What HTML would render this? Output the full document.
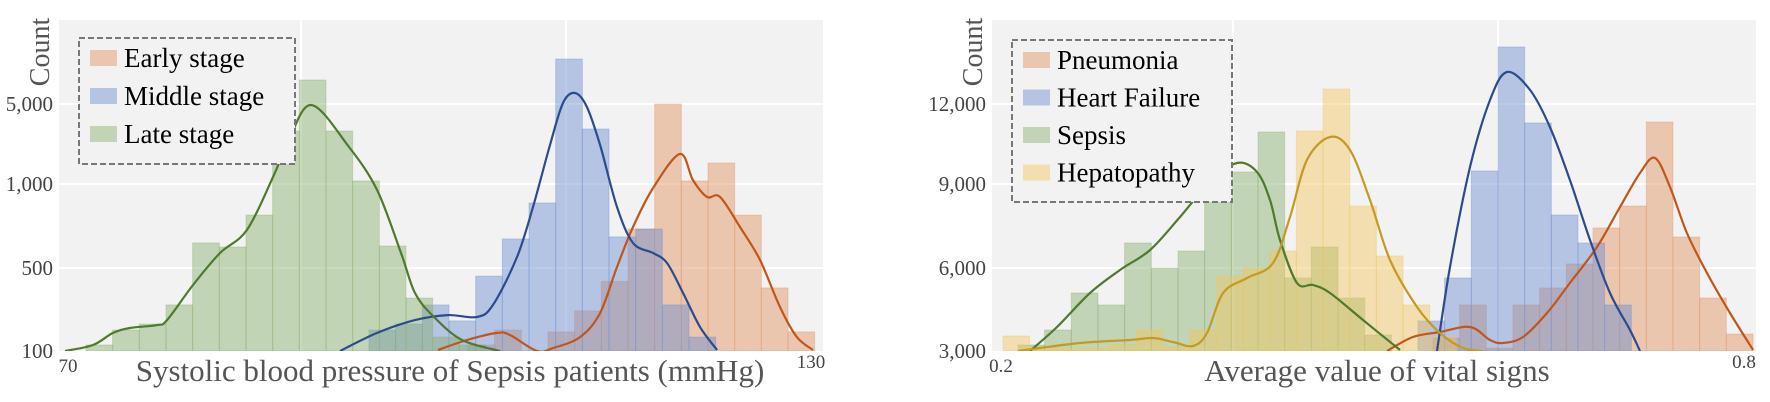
<!DOCTYPE html>
<html><head><meta charset="utf-8">
<style>
html,body{margin:0;padding:0;background:#fff;}
svg{display:block;font-family:"Liberation Serif",serif;}
</style></head>
<body>
<svg id="chart" width="1770" height="402" viewBox="0 0 1770 402" xmlns="http://www.w3.org/2000/svg">
<g id="p1"></g>
<g id="p2"></g>
</svg>
<script>
// ---------- Left panel data ----------
const leftYTicks = [100, 500, 1000, 5000];
const leftYTickLabels = ["100", "500", "1,000", "5,000"];
const leftBinWidth = 2.013;
const earlyStart = 102.6;
const earlyCounts = [129, 201, 100, 192, 293, 435, 732, 5000, 1150, 2050, 815, 404, 192];
const middleStart = 95.13;
const middleCounts = [201, 230, 322, 245, 461, 673, 887, 7250, 3750, 685, 732, 322, 167];
const lateStart = 73.77;
const lateCounts = [129, 201, 230, 322, 649, 625, 815, 3650, 6200, 3650, 1150, 631, 355, 167, 129];
const earlyKdeX = [100.34,102.53,104.79,105.77,107.81,109.02,111.06,112.57,113.85,115.06,116.57,118.60,119.58,120.64,121.62,123.13,124.64,126.15,127.43,128.64];
const earlyKdeY = [105,153,187,177,100,114,167,283,506,744,976,2500,1200,923,923,744,548,312,167,105];
const middleKdeX = [92.94,95.74,98.60,101.09,103.28,104.49,106.30,107.51,108.79,109.77,110.68,111.58,112.57,113.85,115.06,116.57,117.62,118.83,120.11,121.40];
const middleKdeY = [100,187,249,273,264,322,565,863,2950,5050,5550,4850,2950,863,649,589,530,380,216,105];
const lateKdeX = [72.19,74.30,75.81,77.09,79.13,79.89,81.85,83.89,85.92,87.89,88.94,90.75,93.62,95.74,97.55,98.60,100.04,102.15,105.02];
const lateKdeY = [100,129,187,211,225,249,418,589,726,1350,2950,4950,2850,964,589,380,264,153,100];

// ---------- Right panel data ----------
const rightYTicks = [3000, 6000, 9000, 12000];
const rightYTickLabels = ["3,000", "6,000", "9,000", "12,000"];
const rightBinWidth = 0.02013;
const pneuStart = 0.5509;
const pneuCounts = [3470, 4663, 3100, 4663, 5277, 6143, 7429, 8214, 11325, 7107, 4916, 3614];
const hfStart = 0.5396;
const hfCounts = [4084, 5639, 9488, 14138, 11288, 7893, 6893, 4663];
const sepsisStart = 0.2377;
const sepsisCounts = [3217, 3759, 5096, 4663, 6893, 6000, 6607, 10988, 9450, 10950, 5639, 6750, 4916, 3578];
const hepaStart = 0.2264;
const hepaCounts = [3542, 3145, 3108, 3108, 3217, 3759, 3145, 3759, 5711, 6000, 6607, 10988, 12563, 8214, 6429, 4663, 3506];
const pneuKdeX = [0.5162,0.5358,0.5562,0.5789,0.594,0.6038,0.6189,0.637,0.6543,0.6747,0.6921,0.7072,0.7185,0.7298,0.7426,0.7577,0.7751,0.7925];
const pneuKdeY = [3000,3506,3687,3867,3398,3289,3506,4373,5458,6750,8179,9413,9975,8893,7250,5819,4373,3036];
const hfKdeX = [0.554,0.5638,0.5789,0.594,0.6068,0.6242,0.6392,0.6543,0.6694,0.6845,0.6996,0.7072];
const hfKdeY = [3000,6036,9638,12150,13200,12525,11138,9150,7000,5096,3759,3000];
const sepsisKdeX = [0.2468,0.2672,0.2921,0.3147,0.3374,0.36,0.3826,0.403,0.4181,0.4279,0.4355,0.4483,0.4604,0.4732,0.4981,0.526];
const sepsisKdeY = [3000,3867,5096,5928,6643,7821,9075,9788,9450,8429,7000,5458,5386,5096,4120,3036];
const hepaKdeX = [0.2377,0.2845,0.3223,0.3396,0.3547,0.3698,0.3804,0.3925,0.4106,0.4302,0.443,0.4558,0.4732,0.4883,0.5034,0.5185,0.5389,0.5562,0.5736,0.5887];
const hepaKdeY = [3000,3289,3398,3470,3325,3181,3651,5096,5639,6179,7821,9900,10763,10275,8429,6286,4590,3651,3108,3000];

const NS = "http://www.w3.org/2000/svg";
function mk(parent, tag, attrs, text) {
  const e = document.createElementNS(NS, tag);
  for (const k in attrs) e.setAttribute(k, attrs[k]);
  if (text !== undefined) e.textContent = text;
  parent.appendChild(e);
  return e;
}
function pieceY(ticks, pixels) {
  return function (v) {
    const n = ticks.length;
    let i = 0;
    if (v <= ticks[0]) i = 0;
    else if (v >= ticks[n - 1]) i = n - 2;
    else { while (v > ticks[i + 1]) i++; }
    const t = (v - ticks[i]) / (ticks[i + 1] - ticks[i]);
    return pixels[i] + t * (pixels[i + 1] - pixels[i]);
  };
}
function smoothPath(pts) {
  let d = "M" + pts[0][0].toFixed(1) + "," + pts[0][1].toFixed(1);
  for (let i = 0; i < pts.length - 1; i++) {
    const p0 = pts[Math.max(0, i - 1)], p1 = pts[i], p2 = pts[i + 1], p3 = pts[Math.min(pts.length - 1, i + 2)];
    const c1x = p1[0] + (p2[0] - p0[0]) / 6, c1y = p1[1] + (p2[1] - p0[1]) / 6;
    const c2x = p2[0] - (p3[0] - p1[0]) / 6, c2y = p2[1] - (p3[1] - p1[1]) / 6;
    d += " C" + c1x.toFixed(1) + "," + c1y.toFixed(1) + " " + c2x.toFixed(1) + "," + c2y.toFixed(1) + " " + p2[0].toFixed(1) + "," + p2[1].toFixed(1);
  }
  return d;
}

function panel(g, cfg) {
  const L = cfg.left, R = cfg.left + 764, T = 20, B = 351;
  const x = v => cfg.gx0 + (v - cfg.gv0) * cfg.pxPerUnit;
  const y = pieceY(cfg.yTicks, [351, 268, 184, 104]);
  const bg = mk(g, "rect", {x: L, y: T, width: R - L, height: B - T, fill: "#f2f2f2"});
  
  
  cfg.yTicks.forEach((t, i) => {
    if (i > 0) {
      const gl = mk(g, "line", {x1: L, x2: R, y1: y(t), y2: y(t), stroke: "#fff", "stroke-width": 2});
      
      
    }
    const tl = mk(g, "text", {x: L - 6, y: y(t) + 7, "text-anchor": "end", "font-size": 21, fill: "#444"}, cfg.yLabels[i]);
    
    
  });
  cfg.xGrid.forEach(v => {
    const gl = mk(g, "line", {x1: x(v), x2: x(v), y1: T, y2: B, stroke: "#fff", "stroke-width": 2});
    
    
  });
  const clipId = "clip" + cfg.id;
  const cp = mk(mk(g, "defs", {}), "clipPath", {id: clipId});
  mk(cp, "rect", {x: L, y: T, width: R - L, height: B - T});
  const marks = mk(g, "g", {"clip-path": "url(#" + clipId + ")"});
  cfg.series.forEach(s => {
    const sg = mk(marks, "g", {});
    
    
    s.counts.forEach((c, i) => {
      const x0 = x(s.start + i * cfg.binW), x1 = x(s.start + (i + 1) * cfg.binW);
      const r = mk(sg, "rect", {x: x0, y: y(c), width: x1 - x0, height: B - y(c), fill: s.bar, "fill-opacity": 0.45, stroke: s.bar, "stroke-opacity": 0.35, "stroke-width": 1});
      
      
    });
  });
  cfg.series.forEach(s => {
    const pts = s.kx.map((v, i) => [x(v), y(s.ky[i])]);
    const p = mk(marks, "path", {d: smoothPath(pts), fill: "none", stroke: s.line, "stroke-width": 2.2});
    
    
  });
  const cl = mk(g, "text", {transform: "translate(" + (L - 10) + ",52) rotate(-90)", "text-anchor": "middle", "font-size": 28, fill: "#555"}, "Count");
  
  
  const xa = mk(g, "text", {x: L + 9, y: 372, "text-anchor": "middle", "font-size": 19, fill: "#444"}, cfg.xMin);
  
  
  const xb = mk(g, "text", {x: R - 12, y: 368, "text-anchor": "middle", "font-size": 19, fill: "#444"}, cfg.xMax);
  
  
  const xt = mk(g, "text", {x: cfg.titleX, y: 381, "text-anchor": "middle", "font-size": 31, fill: "#555"}, cfg.title);
  
  
  // legend
  const lg = mk(g, "g", {});
  
  
  const lx = cfg.legend.x, ly = cfg.legend.y, rowH = cfg.legend.rowH;
  mk(lg, "rect", {x: lx, y: ly, width: cfg.legend.w, height: rowH * cfg.series.length + 12, fill: "#f2f2f2", stroke: "#777", "stroke-width": 2, "stroke-dasharray": "6,3"});
  cfg.series.forEach((s, i) => {
    const cy = ly + 20 + i * rowH;
    const it = mk(lg, "g", {});
    
    
    mk(it, "rect", {x: lx + 11, y: cy - 8, width: 27, height: 16, fill: s.bar, "fill-opacity": 0.45});
    mk(it, "text", {x: lx + 45, y: cy + 9, "font-size": 27, fill: "#000"}, s.label);
  });
}

panel(document.getElementById("p1"), {
  id: 1, left: 59, gx0: 301, gv0: 90, pxPerUnit: 13.25, xGrid: [90, 110],
  yTicks: leftYTicks, yLabels: leftYTickLabels, binW: leftBinWidth,
  xMin: "70", xMax: "130", title: "Systolic blood pressure of Sepsis patients (mmHg)", titleX: 450,
  legend: {x: 79, y: 38, w: 216, rowH: 38},
  series: [
    {key: "early-stage", label: "Early stage", start: earlyStart, counts: earlyCounts, kx: earlyKdeX, ky: earlyKdeY, bar: "#e0915e", line: "#c0561c"},
    {key: "middle-stage", label: "Middle stage", start: middleStart, counts: middleCounts, kx: middleKdeX, ky: middleKdeY, bar: "#6b8cd0", line: "#2b4c8c"},
    {key: "late-stage", label: "Late stage", start: lateStart, counts: lateCounts, kx: lateKdeX, ky: lateKdeY, bar: "#86b06a", line: "#4e7a2e"}
  ]
});
panel(document.getElementById("p2"), {
  id: 2, left: 992, gx0: 1233, gv0: 0.4, pxPerUnit: 1325, xGrid: [0.4, 0.6],
  yTicks: rightYTicks, yLabels: rightYTickLabels, binW: rightBinWidth,
  xMin: "0.2", xMax: "0.8", title: "Average value of vital signs", titleX: 1377,
  legend: {x: 1012, y: 40, w: 220, rowH: 37.5},
  series: [
    {key: "pneumonia", label: "Pneumonia", start: pneuStart, counts: pneuCounts, kx: pneuKdeX, ky: pneuKdeY, bar: "#e0915e", line: "#c0561c"},
    {key: "heart-failure", label: "Heart Failure", start: hfStart, counts: hfCounts, kx: hfKdeX, ky: hfKdeY, bar: "#6b8cd0", line: "#2b4c8c"},
    {key: "sepsis", label: "Sepsis", start: sepsisStart, counts: sepsisCounts, kx: sepsisKdeX, ky: sepsisKdeY, bar: "#86b06a", line: "#4e7a2e"},
    {key: "hepatopathy", label: "Hepatopathy", start: hepaStart, counts: hepaCounts, kx: hepaKdeX, ky: hepaKdeY, bar: "#f2c55a", line: "#c49a22"}
  ]
});
</script>
</body></html>
